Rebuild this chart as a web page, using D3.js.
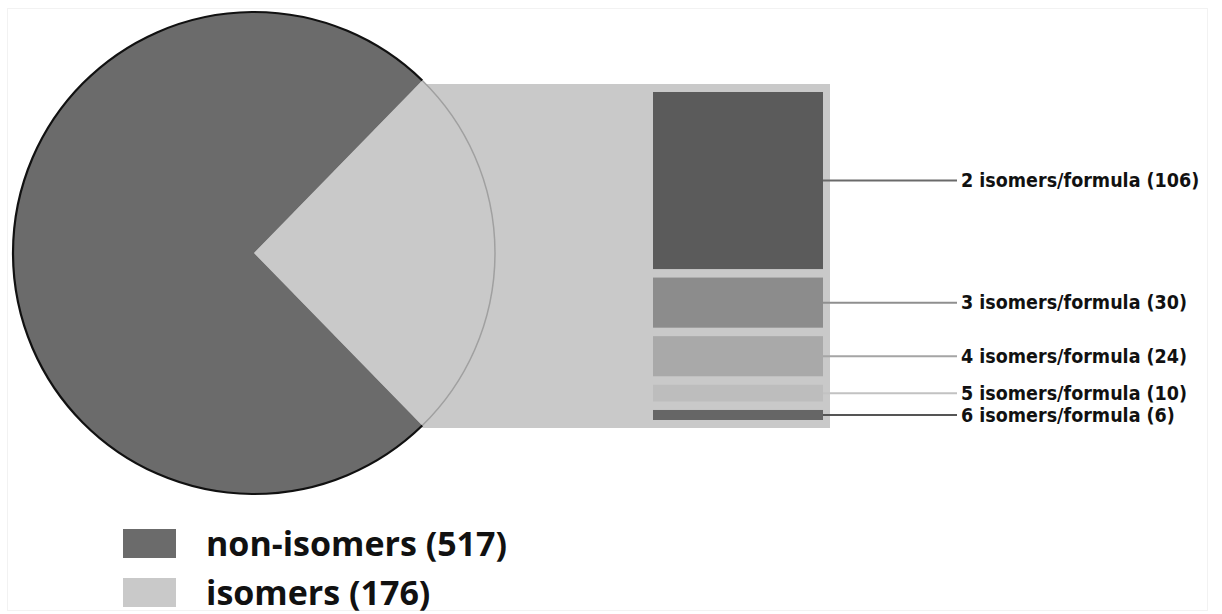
<!DOCTYPE html>
<html>
<head>
<meta charset="utf-8">
<script src="https://cdn.jsdelivr.net/npm/d3@7"></script>
<style>
  body { margin: 0; background: #fff; }
</style>
</head>
<body>
<div id="chart"></div>
<script>
// pie of bar: isomers vs non-isomers, isomers split by count per formula

const pieLabels = ["isomers (176)", "non-isomers (517)"];
const pieValues = [176, 517];
const pieColors = ["#c9c9c9", "#6b6b6b"];

const barLabels = ["2 isomers/formula (106)", "3 isomers/formula (30)", "4 isomers/formula (24)",
                   "5 isomers/formula (10)", "6 isomers/formula (6)"];
const barValues = [106, 30, 24, 10, 6];
const barColors = ["#5b5b5b", "#8c8c8c", "#a9a9a9", "#bdbdbd", "#666666"];
const lineColors = ["#6a6a6a", "#8f8f8f", "#a5a5a5", "#c2c2c2", "#555555"];

const W = 1222, H = 614;

const svg = d3.select("#chart")
  .append("svg")
    .attr("width", W)
    .attr("height", H);

// faint frame
svg.append("rect")
  .attr("x", 7.5).attr("y", 8.5)
  .attr("width", 1200).attr("height", 602)
  .attr("fill", "none")
  .attr("stroke", "#f2f2f2");

const cx = 254, cy = 253, r = 241;

// pie angles: isomer slice centred on the right
const isoAngle = 2 * Math.PI * pieValues[0] / d3.sum(pieValues);
const start = Math.PI / 2 - isoAngle / 2;
const pie = d3.pie().sort(null).startAngle(start).endAngle(start + 2 * Math.PI);
const arcs = pie(pieValues);
const arc = d3.arc().innerRadius(0).outerRadius(r);

// slice endpoints on the circle
const p1 = [cx + r * Math.sin(arcs[0].startAngle), cy - r * Math.cos(arcs[0].startAngle)];
const p2 = [cx + r * Math.sin(arcs[0].endAngle), cy - r * Math.cos(arcs[0].endAngle)];

// bar box
const boxRight = 830, boxTop = 84, boxBottom = 428;
const barLeft = 653, barRight = 823, barTop = 92, barBottom = 420;

// connector band
svg.append("path")
  .attr("d", "M" + p1[0] + "," + boxTop + "L" + boxRight + "," + boxTop +
             "L" + boxRight + "," + boxBottom + "L" + p2[0] + "," + boxBottom + "Z")
  .attr("fill", pieColors[0]);

// pie slices
const g = svg.append("g").attr("transform", "translate(" + cx + "," + cy + ")");
g.selectAll("path.slice")
  .data(arcs)
  .enter()
  .append("path")
    .attr("class", "slice")
    .attr("d", arc)
    .attr("fill", (d, i) => pieColors[i]);

// outline: gray arc on isomer part, black on the rest
const outline = d3.arc().innerRadius(r).outerRadius(r);
g.append("path")
  .attr("d", outline({startAngle: arcs[0].startAngle, endAngle: arcs[0].endAngle}))
  .attr("fill", "none")
  .attr("stroke", "#a0a0a0")
  .attr("stroke-width", 1.5);
g.append("path")
  .attr("d", outline({startAngle: arcs[1].startAngle, endAngle: arcs[1].endAngle}))
  .attr("fill", "none")
  .attr("stroke", "#111")
  .attr("stroke-width", 2.2);

// stacked bar
const gap = 8.5;
const y = d3.scaleLinear()
  .domain([0, d3.sum(barValues)])
  .range([0, (barBottom - barTop) - gap * (barValues.length - 1)]);
const cum = d3.cumsum(barValues);
const segs = barValues.map((v, i) => {
  const y0 = barTop + y(cum[i] - v) + gap * i;
  return {y0: y0, h: y(v)};
});

svg.selectAll("rect.seg")
  .data(segs)
  .enter()
  .append("rect")
    .attr("class", "seg")
    .attr("x", barLeft)
    .attr("y", d => d.y0)
    .attr("width", barRight - barLeft)
    .attr("height", d => d.h)
    .attr("fill", (d, i) => barColors[i]);

// leader lines and labels
svg.selectAll("line.lead")
  .data(segs)
  .enter()
  .append("line")
    .attr("class", "lead")
    .attr("x1", barRight).attr("x2", 957)
    .attr("y1", d => d.y0 + d.h / 2)
    .attr("y2", d => d.y0 + d.h / 2)
    .attr("stroke", (d, i) => lineColors[i])
    .attr("stroke-width", 2);

svg.selectAll("text.lab")
  .data(segs)
  .enter()
  .append("text")
    .attr("class", "lab")
    .attr("x", 961)
    .attr("y", d => d.y0 + d.h / 2)
    .attr("dy", "0.35em")
    .style("font-family", "'Liberation Sans Narrow', 'DejaVu Sans Condensed', sans-serif")
    .style("font-size", "19.5px")
    .style("font-weight", "bold")
    .style("fill", "#111")
    .text((d, i) => barLabels[i]);

// legend
const legendOrder = [1, 0];
const leg = svg.selectAll("g.leg")
  .data(legendOrder)
  .enter()
  .append("g")
    .attr("class", "leg")
    .attr("transform", (d, i) => "translate(123," + (529 + i * 49) + ")");
leg.append("rect")
  .attr("width", 53).attr("height", 29)
  .attr("fill", d => pieColors[d]);
leg.append("text")
  .attr("x", 83)
  .attr("y", 15)
  .attr("dy", "0.36em")
  .style("font-family", "'Open Sans', sans-serif")
  .style("font-size", "34px")
  .style("font-weight", "bold")
  .style("fill", "#111")
  .text(d => pieLabels[d]);
</script>
</body>
</html>
